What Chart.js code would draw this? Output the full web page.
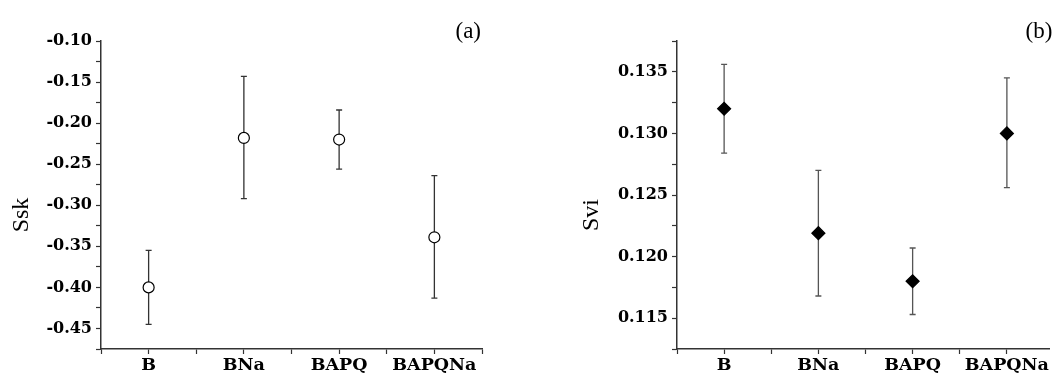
<!DOCTYPE html>
<html>
<head>
<meta charset="utf-8">
<script src="https://cdn.jsdelivr.net/npm/chart.js@4.4.0/dist/chart.umd.min.js"></script>
<style>
  html, body { margin: 0; padding: 0; background: #fff; }
  #wrap { position: relative; width: 1057px; height: 376px; }
  canvas { position: absolute; top: 0; }
</style>
</head>
<body>
<div id="wrap">
  <canvas id="chartA" width="528" height="376" style="left:0"></canvas>
  <canvas id="chartB" width="529" height="376" style="left:528px"></canvas>
</div>
<script>
// categories and values
const categories = ["B", "BNa", "BAPQ", "BAPQNa"];

const sskMean = [-0.400, -0.218, -0.220, -0.339];
const sskHigh = [-0.355, -0.143, -0.184, -0.264];
const sskLow  = [-0.445, -0.292, -0.256, -0.413];

const sviMean = [0.1320, 0.1219, 0.1180, 0.1300];
const sviHigh = [0.1356, 0.1270, 0.1207, 0.1345];
const sviLow  = [0.1284, 0.1168, 0.1153, 0.1256];

// tick positions
const xTicks = [0.5, 1, 1.5, 2, 2.5, 3, 3.5, 4, 4.5];
const sskMajor = [-0.10, -0.15, -0.20, -0.25, -0.30, -0.35, -0.40, -0.45];
const sskMinor = [-0.125, -0.175, -0.225, -0.275, -0.325, -0.375, -0.425, -0.475];
const sviMajor = [0.115, 0.120, 0.125, 0.130, 0.135];
const sviMinor = [0.1125, 0.1175, 0.1225, 0.1275, 0.1325, 0.1375];

const axisColor = "#333";
const yFont = { family: "DejaVu Serif", size: 16, weight: "bold" };
const xFont = { family: "DejaVu Serif", size: 17.5, weight: "bold" };

// error bars behind the markers, axis title and panel label on top
const extras = {
  id: "extras",
  beforeDatasetsDraw(chart, args, o) {
    const { ctx } = chart;
    const xs = chart.scales.x, ys = chart.scales.y;
    ctx.save();
    ctx.strokeStyle = o.barColor;
    ctx.lineWidth = o.barWidth;
    o.low.forEach((lo, i) => {
      const px = xs.getPixelForValue(i + 1);
      const p1 = ys.getPixelForValue(lo);
      const p2 = ys.getPixelForValue(o.high[i]);
      ctx.beginPath();
      ctx.moveTo(px, p1); ctx.lineTo(px, p2);
      ctx.moveTo(px - 3, p1); ctx.lineTo(px + 3, p1);
      ctx.moveTo(px - 3, p2); ctx.lineTo(px + 3, p2);
      ctx.stroke();
    });
    ctx.restore();
  },
  afterDraw(chart, args, o) {
    const { ctx, chartArea } = chart;
    ctx.save();
    ctx.fillStyle = "#000";
    ctx.font = "23px 'Liberation Serif'";
    ctx.textAlign = "right";
    ctx.textBaseline = "middle";
    ctx.fillText(o.panel, chartArea.right + o.panelShift, 32);
    ctx.translate(o.titleX, 215);
    ctx.rotate(-Math.PI / 2);
    ctx.textAlign = "center";
    ctx.font = "24px 'Liberation Serif'";
    ctx.fillText(o.title, 0, 0);
    ctx.restore();
  }
};

function near(list, v) {
  return list.some(t => Math.abs(t - v) < 1e-7);
}

function makeChart(id, cfg) {
  return new Chart(document.getElementById(id), {
    type: "scatter",
    data: {
      datasets: [{
        data: cfg.mean.map((v, i) => ({ x: i + 1, y: v })),
        pointStyle: cfg.pointStyle,
        pointRadius: cfg.radius,
        pointHoverRadius: cfg.radius,
        backgroundColor: cfg.fill,
        borderColor: "#000",
        borderWidth: 1.2,
      }],
    },
    options: {
      responsive: false,
      animation: false,
      events: [],
      layout: { padding: { top: 41, right: cfg.padRight, left: 0, bottom: 0 } },
      plugins: {
        legend: { display: false },
        tooltip: { enabled: false },
        extras: {
          low: cfg.low, high: cfg.high,
          barColor: cfg.barColor, barWidth: 1.3,
          panel: cfg.panel, panelShift: cfg.panelShift,
          title: cfg.title, titleX: cfg.titleX,
        },
      },
      scales: {
        x: {
          type: "linear",
          min: 0.5,
          max: cfg.xMax,
          afterBuildTicks: s => { s.ticks = xTicks.filter(v => v <= cfg.xMax + 1e-9).map(v => ({ value: v })); },
          afterFit: s => { s.height = 27; },
          grid: { drawOnChartArea: false, color: axisColor, tickLength: 5, tickWidth: 1.2 },
          border: { color: axisColor, width: 1.5 },
          ticks: {
            autoSkip: false, maxRotation: 0, padding: 1,
            color: "#000", font: xFont,
            callback: v => Number.isInteger(v) ? categories[v - 1] : "",
          },
        },
        y: {
          min: cfg.yMin,
          max: cfg.yMax,
          afterBuildTicks: s => {
            s.ticks = cfg.major.concat(cfg.minor).sort((a, b) => a - b).map(v => ({ value: v }));
          },
          afterFit: s => { s.width = cfg.yWidth; },
          grid: { drawOnChartArea: false, color: axisColor, tickLength: 5, tickWidth: 1.2 },
          border: { color: axisColor, width: 1.5 },
          ticks: {
            autoSkip: false, padding: 4,
            color: "#000", font: yFont,
            callback: v => near(cfg.major, v) ? v.toFixed(cfg.digits) : "",
          },
        },
      },
    },
    plugins: [extras],
  });
}

makeChart("chartA", {
  mean: sskMean, low: sskLow, high: sskHigh,
  pointStyle: "circle", radius: 5.5, fill: "#fff", barColor: "#333",
  yMin: -0.475, yMax: -0.10, major: sskMajor, minor: sskMinor, digits: 2,
  xMax: 4.5, yWidth: 101, padRight: 46,
  panel: "(a)", panelShift: -1, title: "Ssk", titleX: 22,
});

makeChart("chartB", {
  mean: sviMean, low: sviLow, high: sviHigh,
  pointStyle: "rectRot", radius: 6.5, fill: "#000", barColor: "#555",
  yMin: 0.1125, yMax: 0.1375, major: sviMajor, minor: sviMinor, digits: 3,
  xMax: 4.45, yWidth: 149, padRight: 5,
  panel: "(b)", panelShift: 3, title: "Svi", titleX: 64,
});
</script>
</body>
</html>
